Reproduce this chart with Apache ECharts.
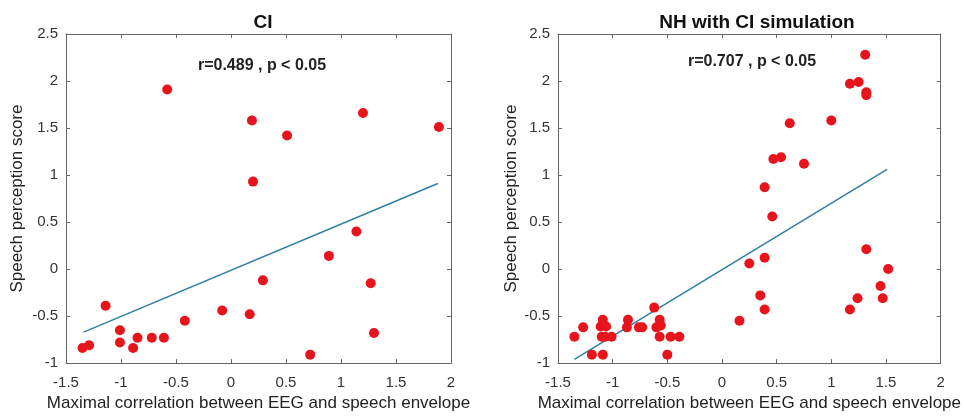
<!DOCTYPE html>
<html>
<head>
<meta charset="utf-8">
<script src="https://cdn.jsdelivr.net/npm/echarts@6/dist/echarts.min.js"></script>
<style>
  html, body { margin: 0; padding: 0; background: #fff; }
  #container { width: 964px; height: 417px; }
</style>
</head>
<body>
<div id="container"></div>
<script>
// CI group: [maximal correlation, speech perception score]
var ciPoints = [
  [-1.35, -0.84], [-1.29, -0.81], [-1.14, -0.39], [-1.01, -0.65], [-1.01, -0.78],
  [-0.89, -0.84], [-0.85, -0.73], [-0.72, -0.73], [-0.61, -0.73], [-0.58, 1.91],
  [-0.42, -0.55], [-0.08, -0.44], [0.17, -0.48], [0.19, 1.58], [0.20, 0.93],
  [0.29, -0.12], [0.51, 1.42], [0.72, -0.91], [0.89, 0.14], [1.14, 0.40],
  [1.20, 1.66], [1.27, -0.15], [1.30, -0.68], [1.89, 1.51]
];
var ciFit = [[-1.34, -0.67], [1.88, 0.91]];

// NH with CI simulation group
var nhPoints = [
  [-1.35, -0.72], [-1.27, -0.62], [-1.19, -0.91], [-1.09, -0.91], [-1.09, -0.54],
  [-1.11, -0.61], [-1.06, -0.61], [-1.10, -0.72], [-1.07, -0.72], [-1.01, -0.72],
  [-0.86, -0.54], [-0.87, -0.62], [-0.76, -0.62], [-0.73, -0.62], [-0.62, -0.41],
  [-0.57, -0.54], [-0.60, -0.62], [-0.56, -0.60], [-0.57, -0.72], [-0.50, -0.91],
  [-0.47, -0.72], [-0.39, -0.72], [0.16, -0.55], [0.25, 0.06], [0.35, -0.28],
  [0.39, 0.12], [0.39, -0.43], [0.39, 0.87], [0.46, 0.56], [0.47, 1.17],
  [0.54, 1.19], [0.62, 1.55], [0.75, 1.12], [1.00, 1.58], [1.17, 1.97],
  [1.25, 1.99], [1.31, 2.28], [1.32, 1.88], [1.32, 1.85], [1.32, 0.21],
  [1.17, -0.43], [1.24, -0.31], [1.45, -0.18], [1.47, -0.31], [1.52, 0.00]
];
var nhFit = [[-1.35, -0.96], [1.51, 1.06]];

var panelTitles = ['CI', 'NH with CI simulation'];
var statTexts = ['r=0.489 , p < 0.05', 'r=0.707 , p < 0.05'];
var xName = 'Maximal correlation between EEG and speech envelope';
var yName = 'Speech perception score';

var dom = document.getElementById('container');
var myChart = echarts.init(dom);

var grids = [
  { left: 66, top: 34, width: 385, height: 334 },
  { left: 558, top: 34, width: 385, height: 334 }
];

var axisLineStyle = { color: '#666', width: 1 };
var labelStyle = { color: '#333', fontSize: 15, fontFamily: 'Liberation Sans' };
var nameStyle = { color: '#222', fontSize: 17, fontFamily: 'Liberation Sans' };

function mainX(g) {
  return {
    gridIndex: g, type: 'value', min: -1.5, max: 2, interval: 0.5,
    position: 'bottom',
    axisLine: { onZero: false, lineStyle: axisLineStyle },
    axisTick: { inside: true, length: 4, lineStyle: axisLineStyle },
    axisLabel: Object.assign({ margin: 12 }, labelStyle),
    splitLine: { show: false },
    name: xName, nameLocation: 'middle', nameGap: 31,
    nameTextStyle: nameStyle
  };
}
function topX(g) {
  return {
    gridIndex: g, type: 'value', min: -1.5, max: 2, interval: 0.5,
    position: 'top',
    axisLine: { onZero: false, lineStyle: axisLineStyle },
    axisTick: { inside: true, length: 4, lineStyle: axisLineStyle },
    axisLabel: { show: false }, splitLine: { show: false }
  };
}
function mainY(g, gap) {
  return {
    gridIndex: g, type: 'value', min: -1, max: 2.5, interval: 0.5,
    position: 'left',
    axisLine: { onZero: false, lineStyle: axisLineStyle },
    axisTick: { inside: true, length: 4, lineStyle: axisLineStyle },
    axisLabel: Object.assign({ margin: 8 }, labelStyle),
    splitLine: { show: false },
    name: yName, nameLocation: 'middle', nameGap: gap,
    nameTextStyle: nameStyle
  };
}
function rightY(g) {
  return {
    gridIndex: g, type: 'value', min: -1, max: 2.5, interval: 0.5,
    position: 'right',
    axisLine: { onZero: false, lineStyle: axisLineStyle },
    axisTick: { inside: true, length: 4, lineStyle: axisLineStyle },
    axisLabel: { show: false }, splitLine: { show: false }
  };
}

function dots(idx, data) {
  return {
    type: 'scatter', xAxisIndex: idx, yAxisIndex: idx, data: data,
    symbolSize: 10, itemStyle: { color: '#e8141c', opacity: 1 }, z: 3
  };
}
function fit(idx, data) {
  return {
    type: 'line', xAxisIndex: idx, yAxisIndex: idx, data: data,
    symbol: 'none', lineStyle: { color: '#2e7ea3', width: 1.5 }, z: 2
  };
}

var statStyle = { fontSize: 16, fontWeight: 'bold', color: '#222', fontFamily: 'Liberation Sans' };
var titleStyle = { fontSize: 19, fontWeight: 'bold', color: '#111', fontFamily: 'Liberation Sans' };

var option = {
  animation: false,
  backgroundColor: '#fff',
  title: [
    { text: panelTitles[0], left: 258, top: 8, textAlign: 'center', textStyle: titleStyle },
    { text: panelTitles[1], left: 752, top: 8, textAlign: 'center', textStyle: titleStyle },
    { text: statTexts[0], left: 257, top: 53, textAlign: 'center', textStyle: statStyle },
    { text: statTexts[1], left: 747, top: 49, textAlign: 'center', textStyle: statStyle }
  ],
  grid: grids,
  xAxis: [mainX(0), mainX(1), topX(0), topX(1)],
  yAxis: [mainY(0, 40), mainY(1, 36), rightY(0), rightY(1)],
  series: [
    fit(0, ciFit), dots(0, ciPoints),
    fit(1, nhFit), dots(1, nhPoints)
  ]
};

myChart.setOption(option);
</script>
</body>
</html>
